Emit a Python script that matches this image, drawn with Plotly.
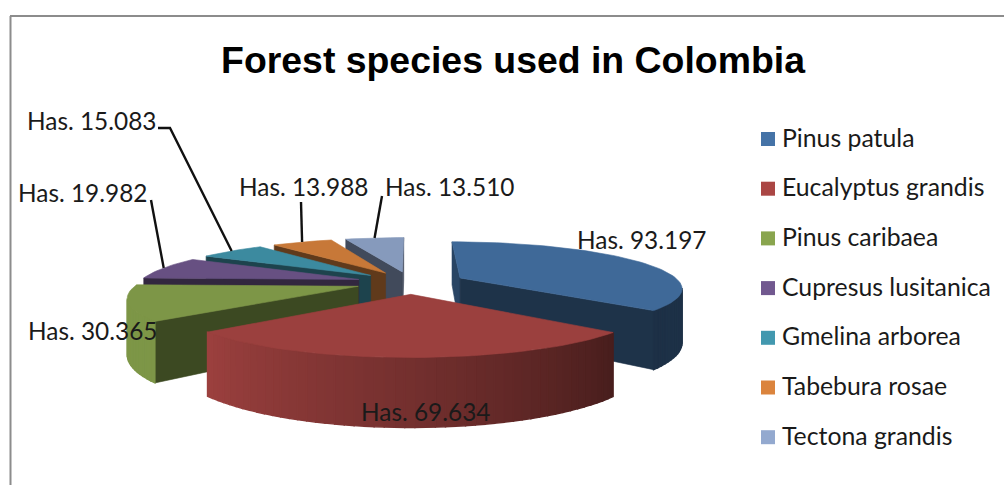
import math
import plotly.graph_objects as go

# Planted area per species, in hectares
species = ["Pinus patula", "Eucalyptus grandis", "Pinus caribaea", "Cupresus lusitanica",
           "Gmelina arborea", "Tabebura rosae", "Tectona grandis"]
hectares = [93197, 69634, 30365, 19982, 15083, 13988, 13510]
colors = ["#4573a7", "#aa4644", "#89a54e", "#71588f", "#4298af", "#db843d", "#93a9cf"]

# Projection of the exploded pie onto the page
CX, CY = 411.0, 282.5
RX, RY = 220.0, 45.0
THICKNESS = 52.5
EXPLODE = 0.25
PERSPECTIVE = 0.2
TOP_SHADE = 0.91
RADIAL_SHADE = 0.44
BACK_WALL_SHADE = 0.6

# Wall brightness by clockwise angle from twelve o'clock
SHADE_STOPS = [(0, .6), (60, .66), (85, .5), (100, .43), (131, .42), (180, .68), (228, .91), (360, .91)]

# Where each value label sits (centre of text), in the same order as the species
LABEL_POS = [(641, 239.5), (425, 411.5), (92, 330.5), (82, 192.5), (91, 120.5), (303, 186.5), (449, 186.5)]
# Start of each leader line; the far end is found from the slice itself
LEADERS = {3: [(151, 200)], 4: [(158, 128), (170, 128)], 5: [(301, 202)], 6: [(382, 196)]}


def shaded(hex_color, k):
    rgb = [int(hex_color[i:i + 2], 16) for i in (1, 3, 5)]
    return "rgb({},{},{})".format(*[round(c * k) for c in rgb])


def wall_brightness(theta):
    for (a0, b0), (a1, b1) in zip(SHADE_STOPS, SHADE_STOPS[1:]):
        if a0 <= theta <= a1:
            return b0 + (b1 - b0) * (theta - a0) / (a1 - a0)
    return SHADE_STOPS[-1][1]


def project(x, y, z=0.0):
    w = 1 + PERSPECTIVE * y
    return CX + RX * x / w, CY - (RY * y + THICKNESS * z) / w


def rim(theta, bisector, radius=1.0):
    t, b = math.radians(theta), math.radians(bisector)
    return (EXPLODE * math.sin(b) + radius * math.sin(t),
            EXPLODE * math.cos(b) + radius * math.cos(t))


def facing(poly):
    area = 0.0
    for (x0, y0), (x1, y1) in zip(poly, poly[1:] + poly[:1]):
        area += x0 * y1 - x1 * y0
    return area < 0


def polygon(poly, fill, edge=0.6):
    xs = [p[0] for p in poly] + [poly[0][0]]
    ys = [p[1] for p in poly] + [poly[0][1]]
    return go.Scatter(x=xs, y=ys, mode="lines", fill="toself", fillcolor=fill,
                      line=dict(color=fill, width=edge), hoverinfo="skip", showlegend=False)


total = sum(hectares)
slices = []
start = 0.0
for i, v in enumerate(hectares):
    sweep = 360.0 * v / total
    slices.append((i, start, start + sweep, start + sweep / 2))
    start += sweep

fig = go.Figure()

# Slices from back to front, so the nearer ones cover the farther ones
for i, a0, a1, mid in sorted(slices, key=lambda s: -math.cos(math.radians(s[3]))):
    base = colors[i]
    steps = max(2, int((a1 - a0) / 2))
    angles = [a0 + (a1 - a0) * k / steps for k in range(steps + 1)]
    apex = rim(0, mid, 0.0)
    outline = [rim(a, mid) for a in angles]

    start_shade = BACK_WALL_SHADE if a0 == 0 else RADIAL_SHADE
    for a, b, k in ((apex, outline[0], start_shade), (outline[-1], apex, RADIAL_SHADE)):
        quad = [project(*a), project(*b), project(*b, -1), project(*a, -1)]
        if facing(quad):
            fig.add_trace(polygon(quad, shaded(base, k)))

    # Walls are laid in overlapping bands, so the stroke has to cover each joint
    for k in range(steps):
        a, b = outline[k], outline[k + 1]
        quad = [project(*a), project(*b), project(*b, -1), project(*a, -1)]
        if facing(quad):
            tone = wall_brightness((angles[k] + angles[k + 1]) / 2)
            fig.add_trace(polygon(quad, shaded(base, tone), edge=1.4))

    top = [project(*apex)] + [project(*p) for p in outline]
    fig.add_trace(polygon(top, shaded(base, TOP_SHADE)))

# Leader lines from the labels to the rim of their slices
for i, a0, a1, mid in slices:
    if i in LEADERS:
        path = LEADERS[i] + [project(*rim(mid, mid))]
        fig.add_trace(go.Scatter(x=[p[0] for p in path], y=[p[1] for p in path], mode="lines",
                                 line=dict(color="#111111", width=2.4), hoverinfo="skip", showlegend=False))

# Key on the right
key_y = [139 + 49.7 * i for i in range(len(species))]
fig.add_trace(go.Scatter(x=[768] * len(species), y=key_y, mode="markers",
                         marker=dict(symbol="square", size=14, color=colors,
                                     line=dict(width=0)),
                         hoverinfo="skip", showlegend=False))
fig.add_trace(go.Scatter(x=[782] * len(species), y=[y + 1.5 for y in key_y], mode="text", text=species,
                         textposition="middle right",
                         textfont=dict(family="Lato", size=24.8, color="#1a1a1a"),
                         hoverinfo="skip", showlegend=False))

# Value labels, written the way the source formats thousands
annotations = []
for v, (x, y) in zip(hectares, LABEL_POS):
    text = "Has. {:,}".format(v).replace(",", ".")
    annotations.append(dict(x=x, y=y, text=text, showarrow=False, xref="x", yref="y",
                            font=dict(family="Lato", size=24.4, color="#1a1a1a")))

frame = dict(color="#8c8c8c", width=2)
fig.update_layout(
    width=1004, height=485, margin=dict(l=0, r=0, t=0, b=0),
    paper_bgcolor="white", plot_bgcolor="white", showlegend=False,
    title=dict(text="<b>Forest species used in Colombia</b>", x=513 / 1004, xanchor="center",
               y=1 - 60 / 485, yanchor="middle",
               font=dict(family="Liberation Sans", size=37.4, color="black")),
    xaxis=dict(range=[0, 1004], visible=False, fixedrange=True),
    yaxis=dict(range=[485, 0], visible=False, fixedrange=True),
    annotations=annotations,
    shapes=[dict(type="line", xref="x", yref="y", x0=10.5, y0=16, x1=10.5, y1=485, line=frame),
            dict(type="line", xref="x", yref="y", x0=10, y0=16, x1=1004, y1=16, line=frame)],
)

fig.write_html("out.html", config=dict(displayModeBar=False))
